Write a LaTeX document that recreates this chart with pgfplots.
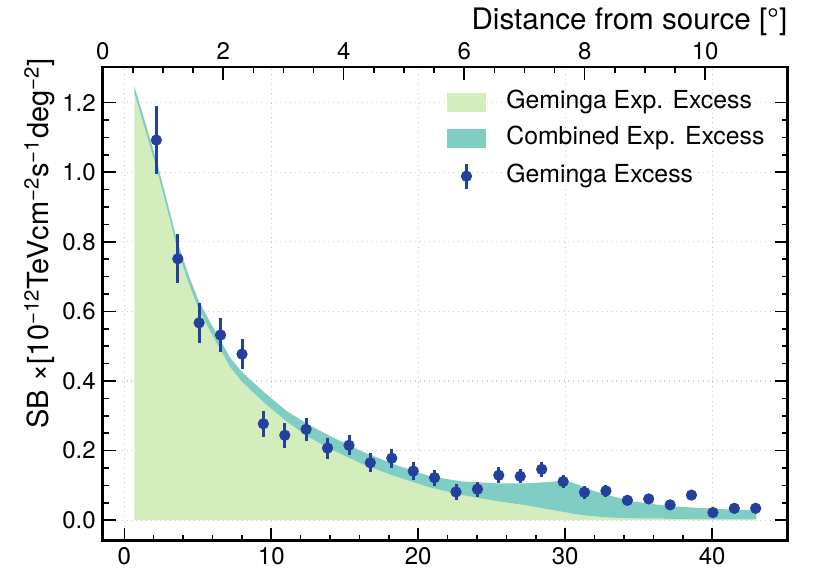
\documentclass[border=0pt]{standalone}
\usepackage{pgfplots}
\pgfplotsset{compat=1.18}
\usepackage{fontspec}
\setmainfont{TeX Gyre Heros}
\definecolor{gemgreen}{HTML}{D4EDBC}
\definecolor{combteal}{HTML}{7FCDC3}
\definecolor{ptblue}{HTML}{22409C}
\definecolor{gridgray}{HTML}{C8C8C8}

\pgfplotstableread{
x y e
2.18 1.092 0.098
3.64 0.751 0.071
5.09 0.567 0.058
6.55 0.532 0.050
8.01 0.477 0.044
9.46 0.277 0.038
10.92 0.244 0.036
12.37 0.261 0.033
13.83 0.207 0.030
15.29 0.215 0.029
16.74 0.165 0.028
18.20 0.178 0.027
19.66 0.141 0.026
21.11 0.122 0.023
22.57 0.081 0.022
24.03 0.089 0.022
25.48 0.129 0.023
26.94 0.126 0.020
28.40 0.146 0.021
29.86 0.111 0.018
31.31 0.080 0.018
32.77 0.084 0.017
34.23 0.057 0.014
35.68 0.061 0.014
37.14 0.044 0.015
38.59 0.072 0.008
40.05 0.022 0.008
41.51 0.034 0.008
42.96 0.034 0.008
}\excess

\begin{document}
\begin{tikzpicture}
\useasboundingbox (-51.35pt,-16.15pt) rectangle (355.15pt,270.35pt);
\begin{axis}[
  at={(0pt,0pt)}, anchor=south west,
  width=342.5pt, height=236.85pt, scale only axis,
  xmin=-1.47, xmax=45.14, ymin=-0.059, ymax=1.302,
  xtick={0,10,20,30,40}, ytick={0,0.2,0.4,0.6,0.8,1.0,1.2},
  minor x tick num=4, minor y tick num=3,
  xtick pos=left, ytick pos=both, yticklabel pos=left,
  tick align=inside,
  major tick length=6.5pt, minor tick length=3pt,
  every tick/.style={black, line width=0.8pt},
  axis line style={line width=1.3pt},
  grid=major, major grid style={dotted, gridgray, line width=0.6pt},
  /pgf/number format/assume math mode=true,
  /pgf/number format/.cd, fixed, fixed zerofill, precision=1,
  /pgfplots/.cd,
  xticklabel style={/pgf/number format/precision=0, /pgf/number format/fixed zerofill=false},
  tick label style={font=\fontsize{12}{14}\selectfont},
  ylabel={SB \texttimes[10\textsuperscript{−12}TeVcm\textsuperscript{−2}s\textsuperscript{−1}deg\textsuperscript{−2}]},
  ylabel style={font=\fontsize{14.5}{16}\selectfont, at={(rel axis cs:0,1)}, anchor=south east, inner sep=0pt, xshift=4.5pt, yshift=23.5pt},
  legend cell align=left,
  legend style={at={(rel axis cs:0.502,0.951)}, anchor=north west, draw=none, fill=none, inner sep=0pt, outer sep=0pt,
    font=\fontsize{12.4}{14}\selectfont, row sep=6pt,
    nodes={inner sep=0pt, text height=9pt, text depth=3pt}},
]
\addplot[fill=gemgreen, draw=none, area legend,
  legend image code/.code={\fill[gemgreen] (0pt,-4.75pt) rectangle (19.5pt,4.75pt); \path (0pt,0pt) (29.5pt,0pt);}]
  coordinates {(0.68,0) (0.68,1.228) (1.5,1.11) (2.2,1.01) (3.0,0.88) (3.6,0.78) (4.3,0.69) (5.0,0.612) (5.8,0.547) (6.5,0.493) (7.2,0.44) (8.0,0.398) (9.45,0.34) (11.0,0.285) (12.5,0.24) (14.0,0.205) (16.25,0.16) (18.5,0.125) (20.8,0.094) (23.0,0.072) (25.3,0.055) (27.6,0.041) (29.0,0.030) (29.8,0.024) (31.2,0.014) (32.8,0.008) (34.6,0.005) (36.9,0.004) (39.1,0.003) (43.0,0.002) (43.0,0)} \closedcycle;
\addlegendentry{Geminga Exp. Excess}
\addplot[fill=combteal, draw=none, area legend,
  legend image code/.code={\fill[combteal] (0pt,-4.75pt) rectangle (19.5pt,4.75pt); \path (0pt,0pt) (29.5pt,0pt);}]
  coordinates {(0.68,1.228) (0.68,1.247) (1.5,1.132) (2.2,1.032) (3.0,0.902) (3.6,0.802) (4.3,0.713) (5.0,0.636) (5.8,0.572) (6.5,0.52) (7.2,0.467) (8.0,0.426) (9.45,0.37) (11.0,0.315) (12.5,0.275) (14.0,0.242) (16.25,0.196) (18.5,0.158) (20.8,0.126) (23.0,0.111) (25.3,0.106) (27.6,0.106) (29.0,0.110) (29.8,0.113) (30.5,0.108) (31.2,0.096) (32.0,0.083) (32.8,0.073) (34.6,0.054) (36.9,0.041) (39.1,0.035) (41.0,0.031) (43.0,0.028)
  (43.0,0.002) (39.1,0.003) (36.9,0.004) (34.6,0.005) (32.8,0.008) (31.2,0.014) (29.8,0.024) (29.0,0.030) (27.6,0.041) (25.3,0.055) (23.0,0.072) (20.8,0.094) (18.5,0.125) (16.25,0.16) (14.0,0.205) (12.5,0.24) (11.0,0.285) (9.45,0.34) (8.0,0.398) (7.2,0.44) (6.5,0.493) (5.8,0.547) (5.0,0.612) (4.3,0.69) (3.6,0.78) (3.0,0.88) (2.2,1.01) (1.5,1.11) (0.68,1.228)} -- cycle;
\addlegendentry{Combined Exp. Excess}
\addplot[only marks, mark=*, mark size=2.6pt, color=ptblue,
  legend image code/.code={\draw[line width=1.5pt, ptblue] (9.75pt,-6.25pt) -- (9.75pt,6.25pt); \fill[ptblue] (9.75pt,0pt) circle (2.6pt); \path (0pt,0pt) (29.5pt,0pt);},
  error bars/.cd, y dir=both, y explicit, error mark=none,
  error bar style={line width=1.5pt, ptblue}]
  table[x=x, y=y, y error=e] {\excess};
\addlegendentry{Geminga Excess}
\end{axis}
\begin{axis}[
  at={(0pt,0pt)}, anchor=south west,
  width=342.5pt, height=236.85pt, scale only axis,
  xmin=0, xmax=11.37, ymin=0, ymax=1,
  axis x line*=top, hide y axis,
  xtick={0,2,4,6,8,10}, minor x tick num=3,
  tick align=inside,
  major tick length=6.5pt, minor tick length=3pt,
  every tick/.style={black, line width=0.8pt},
  axis line style={line width=1.3pt},
  /pgf/number format/assume math mode=true,
  tick label style={font=\fontsize{12}{14}\selectfont},
  xlabel={Distance from source [°]},
  xlabel style={font=\fontsize{14.8}{16}\selectfont, at={(rel axis cs:1,1)}, anchor=south east, inner sep=0pt, yshift=15.5pt},
]
\addplot[draw=none] coordinates {(0,0)};
\end{axis}
\end{tikzpicture}
\end{document}
